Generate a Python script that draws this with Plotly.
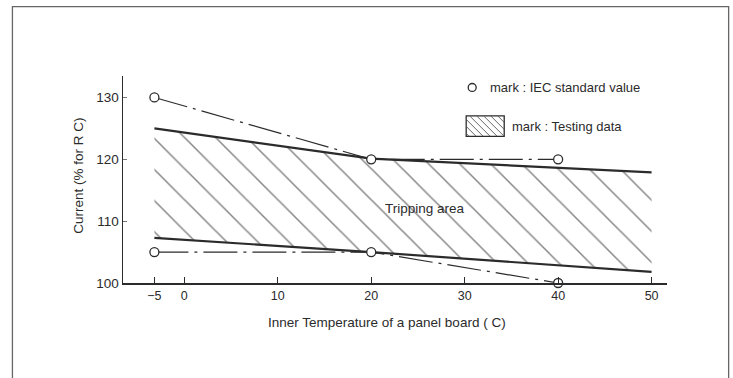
import plotly.graph_objects as go

# ---- data ----
band_temps = [-5, 20, 50]
band_upper = [125.0, 120.1, 117.9]
band_lower = [107.3, 105.0, 101.8]

iec_temps = [-5, 20, 40]
iec_upper = [130, 120, 120]
iec_lower = [105, 105, 100]

x_tick_values = [-5, 0, 10, 20, 30, 40, 50]
x_tick_labels = ["\u22125", "0", "10", "20", "30", "40", "50"]
y_tick_values = [100, 110, 120, 130]

# the source axis compresses the segment below 0 C
NEG_SCALE = 0.64


def axis_pos(t):
    return t if t >= 0 else t * NEG_SCALE


W, H = 733, 378
L, R, T, B = 123, 66.3, 76, 94.5
PW, PH = W - L - R, H - T - B
INK = "#2b2b2b"
FONT = "Liberation Sans, Arial, sans-serif"


def px(xp):
    return (xp - L) / PW


def py(yp):
    return (H - B - yp) / PH


fig = go.Figure()

bx = [axis_pos(t) for t in band_temps]
fig.add_trace(go.Scatter(x=bx, y=band_lower, mode="lines",
                         line=dict(color=INK, width=2.2), showlegend=False,
                         hoverinfo="skip"))
fig.add_trace(go.Scatter(x=bx, y=band_upper, mode="lines", fill="tonexty",
                         fillcolor="rgba(0,0,0,0)",
                         fillpattern=dict(shape="\\", size=22, solidity=0.07,
                                          fgcolor="#111", bgcolor="rgba(0,0,0,0)"),
                         line=dict(color=INK, width=2.2), showlegend=False,
                         hoverinfo="skip"))

ix = [axis_pos(t) for t in iec_temps]
for ys in (iec_upper, iec_lower):
    fig.add_trace(go.Scatter(x=ix, y=ys, mode="lines+markers",
                             line=dict(color=INK, width=1.2, dash="34px,6px,3px,6px"),
                             marker=dict(symbol="circle", size=9, color="white",
                                         line=dict(color=INK, width=1.3)),
                             cliponaxis=False, showlegend=False, hoverinfo="skip"))

fig.update_xaxes(range=[-6.56, 51.65], tickvals=[axis_pos(v) for v in x_tick_values],
                 ticktext=x_tick_labels, ticks="inside", ticklen=6, tickwidth=1.2,
                 tickcolor=INK, showline=True, linecolor=INK, linewidth=1.5,
                 showgrid=False, zeroline=False,
                 tickfont=dict(family=FONT, size=12.5, color=INK))
fig.update_yaxes(range=[100, 133.47], tickvals=y_tick_values, ticks="inside",
                 ticklen=4, tickwidth=1, tickcolor="#777", showline=True,
                 linecolor=INK, linewidth=1.5, showgrid=False, zeroline=False,
                 tickfont=dict(family=FONT, size=13.5, color=INK))


def note(text, x, y, xref="paper", yref="paper", xanchor="center", size=13.5, angle=0):
    return dict(text=text, x=x, y=y, xref=xref, yref=yref, xanchor=xanchor,
                yanchor="middle", showarrow=False, textangle=angle,
                font=dict(family=FONT, size=size, color=INK))


annotations = [
    note("Tripping area", 25.8, 112.0, xref="x", yref="y", size=13.5),
    note("Inner Temperature of a panel board ( C)", px(387), py(323)),
    note("Current (% for R C)", px(79), py(176), angle=-90),
    note("mark : IEC standard value", px(488), py(87.5), xanchor="left", size=13),
    note("mark : Testing data", px(510), py(126.5), xanchor="left", size=13),
]

shapes = []
# page frame
shapes.append(dict(type="rect", xref="paper", yref="paper", x0=px(12.5), x1=px(728.3),
                   y0=py(400), y1=py(6.5), line=dict(color="#666", width=1.3)))
# legend circle
shapes.append(dict(type="circle", xref="paper", yref="paper", x0=px(468), x1=px(476),
                   y0=py(91.5), y1=py(83.5), line=dict(color=INK, width=1.3)))
# legend hatched box
bx0, bx1, by0, by1 = 466, 504, 116, 136.5
shapes.append(dict(type="rect", xref="paper", yref="paper", x0=px(bx0), x1=px(bx1),
                   y0=py(by1), y1=py(by0), line=dict(color=INK, width=1.3)))
step = 7
h = by1 - by0
c = bx0 - h + 3
while c < bx1:
    xa, ya = c, by0
    xb, yb = c + h, by1
    if xa < bx0:
        ya += bx0 - xa
        xa = bx0
    if xb > bx1:
        yb -= xb - bx1
        xb = bx1
    if xb > xa:
        shapes.append(dict(type="line", xref="paper", yref="paper", x0=px(xa), y0=py(ya),
                           x1=px(xb), y1=py(yb), line=dict(color="#555", width=0.9)))
    c += step

fig.update_layout(width=W, height=H, margin=dict(l=L, r=R, t=T, b=B),
                  paper_bgcolor="white", plot_bgcolor="white", hovermode=False,
                  annotations=annotations, shapes=shapes, showlegend=False)

fig.write_html("out.html", config={"displayModeBar": False, "staticPlot": True},
               post_script="document.body.style.margin='0';"
                           "document.body.style.overflow='hidden';")
